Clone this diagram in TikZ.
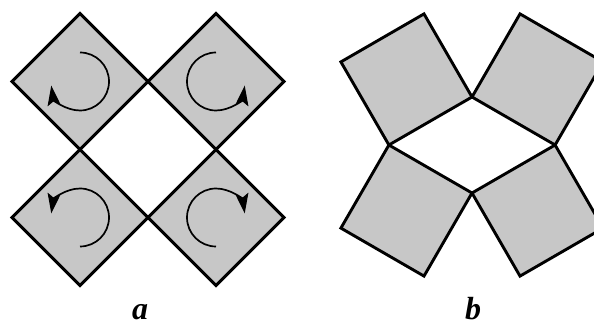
\documentclass[tikz,border=0pt]{standalone}
\usepackage{fontspec}
\setmainfont{Liberation Serif}
\usetikzlibrary{arrows.meta,calc}
\begin{document}
\begin{tikzpicture}[x=1pt,y=1pt,
  tile/.style={draw=black,line width=2.9pt,line join=miter,fill=black!22},
  spin/.style={line width=1.7pt,arrows={-Stealth[length=20pt,width=13pt,inset=4pt]}},
  lab/.style={font=\fontsize{32}{36}\selectfont\bfseries\itshape,inner sep=0pt,anchor=base}]
\clip (0,0) rectangle (594,326);
\useasboundingbox (0,0) rectangle (594,326);
% ---- part a ----
\def\h{68}
\foreach \cx/\cy [count=\i] in {80/244.5,216/244.5,80/108.5,216/108.5}{
  \coordinate (c\i) at (\cx,\cy);
  \path[tile] ($(c\i)+(0,\h)$) -- ($(c\i)+(\h,0)$) -- ($(c\i)+(0,-\h)$) -- ($(c\i)+(-\h,0)$) -- cycle;
}
\draw[spin] ($(c1)+(90:29)$) arc[start angle=90,end angle=-172,radius=29];
\draw[spin] ($(c2)+(90:29)$) arc[start angle=90,end angle=352,radius=29];
\draw[spin] ($(c3)+(-90:29)$) arc[start angle=-90,end angle=172,radius=29];
\draw[spin] ($(c4)+(-90:29)$) arc[start angle=-90,end angle=-352,radius=29];
% ---- part b ----
\coordinate (L) at (388.9,181);
\coordinate (T) at (472,229);
\coordinate (R) at (555.1,181);
\coordinate (B) at (472,133);
\path[tile] (L) -- (T) -- ($(T)+(-48,83.1)$) -- ($(L)+(-48,83.1)$) -- cycle;
\path[tile] (T) -- (R) -- ($(R)+(48,83.1)$) -- ($(T)+(48,83.1)$) -- cycle;
\path[tile] (R) -- (B) -- ($(B)+(48,-83.1)$) -- ($(R)+(48,-83.1)$) -- cycle;
\path[tile] (B) -- (L) -- ($(L)+(-48,-83.1)$) -- ($(B)+(-48,-83.1)$) -- cycle;
% ---- labels ----
\node[lab] (la) at (140,6) {a};
\node[lab] (lb) at (473,6) {b};
\end{tikzpicture}
\end{document}
